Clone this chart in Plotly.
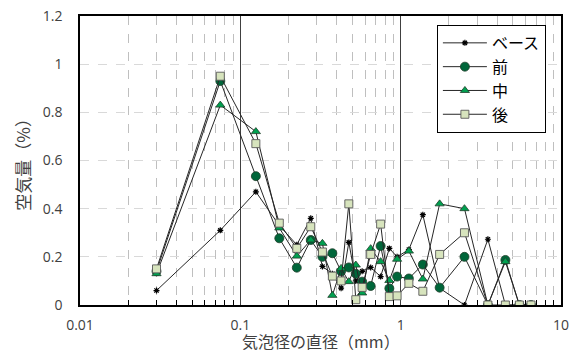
import plotly.graph_objects as go

diam = [0.03, 0.075, 0.125, 0.175, 0.225, 0.275, 0.325, 0.375, 0.425, 0.475, 0.525, 0.575,
        0.65, 0.75, 0.85, 0.95, 1.125, 1.375, 1.75, 2.5, 3.5, 4.5, 5.5, 6.5]

base = [0.06, 0.31, 0.47, 0.33, 0.25, 0.36, 0.16, 0.13, 0.07, 0.26, 0.10, 0.14,
        0.156, 0.118, 0.235, 0.20, 0.23, 0.375, 0.07, 0.0, 0.273, 0.0, 0.0, 0.0]
mae = [0.14, 0.93, 0.535, 0.277, 0.155, 0.27, 0.20, 0.215, 0.14, 0.156, 0.13, 0.097,
       0.079, 0.245, 0.069, 0.118, 0.11, 0.168, 0.072, 0.20, 0.0, 0.187, 0.0, 0.0]
naka = [0.13, 0.83, 0.72, 0.32, 0.203, 0.27, 0.256, 0.04, 0.152, 0.097, 0.166, 0.05,
        0.234, 0.18, 0.102, 0.19, 0.224, 0.108, 0.42, 0.40, 0.0, 0.18, 0.0, 0.0]
ato = [0.15, 0.95, 0.67, 0.34, 0.235, 0.325, 0.22, 0.12, 0.10, 0.42, 0.022, 0.073,
       0.21, 0.336, 0.035, 0.038, 0.09, 0.057, 0.21, 0.30, 0.0, 0.0, 0.0, 0.0]

names = ["ベース", "前", "中", "後"]
x_title = "気泡径の直径（mm）"
y_title = "空気量（%）"
x_ticks = [0.01, 0.1, 1, 10]
x_tick_text = ["0.01", "0.1", "1", "10"]
x_minor = [m * d for d in (0.01, 0.1, 1) for m in range(2, 10)]
y_ticks = [0, 0.2, 0.4, 0.6, 0.8, 1.0, 1.2]
y_tick_text = ["0", "0.2", "0.4", "0.6", "0.8", "1", "1.2"]

FONT = "Open Sans, Noto Sans CJK JP, sans-serif"
JP = "Noto Sans CJK JP, sans-serif"
line = dict(color="#262626", width=1)

fig = go.Figure()
fig.add_trace(go.Scatter(x=diam, y=base, name=names[0], mode="lines+markers", line=line,
                         marker=dict(symbol="asterisk-open", size=5, color="#000000",
                                     line=dict(color="#000000", width=1.2))))
fig.add_trace(go.Scatter(x=diam, y=mae, name=names[1], mode="lines+markers", line=line,
                         marker=dict(symbol="circle", size=9, color="#00663a",
                                     line=dict(color="#1f3d2a", width=0.8))))
fig.add_trace(go.Scatter(x=diam, y=naka, name=names[2], mode="lines+markers", line=line,
                         marker=dict(symbol="triangle-up", size=8, color="#00a050",
                                     line=dict(color="#1f3d2a", width=0.8))))
fig.add_trace(go.Scatter(x=diam, y=ato, name=names[3], mode="lines+markers", line=line,
                         marker=dict(symbol="square", size=8, color="#d7e4bd",
                                     line=dict(color="#595959", width=0.9))))

fig.update_layout(
    width=577, height=356,
    margin=dict(l=80, r=16, t=16, b=51),
    paper_bgcolor="white", plot_bgcolor="white",
    font=dict(family=FONT, size=14, color="#404040"),
    showlegend=True,
    legend=dict(x=0.742, y=0.969, xanchor="left", yanchor="top",
                bgcolor="white", bordercolor="#000000", borderwidth=1,
                font=dict(family=JP, size=16, color="#000000"),
                itemwidth=44, tracegroupgap=0),
    annotations=[
        dict(text=x_title, xref="paper", yref="paper", x=0.5, y=-0.171,
             xanchor="center", yanchor="bottom", showarrow=False, borderpad=0,
             font=dict(family=JP, size=16, color="#404040")),
        dict(text=y_title, xref="paper", yref="paper", x=-0.12, y=0.5, textangle=-90,
             xanchor="center", yanchor="middle", showarrow=False,
             font=dict(family=JP, size=17, color="#404040")),
    ],
)
fig.update_xaxes(
    type="log", range=[-2, 1], automargin=False,
    tickvals=x_ticks, ticktext=x_tick_text, ticks="", ticklabelstandoff=6,
    showgrid=True, gridcolor="#404040", gridwidth=1,
    showline=True, linecolor="#000000", linewidth=1.5, mirror=True,
    minor=dict(tickvals=x_minor, ticks="inside", ticklen=5, tickcolor="#000000", showgrid=True,
               gridcolor="#bfbfbf", griddash="dash", gridwidth=1),
    tickfont=dict(family=FONT, size=14, color="#404040"),
    zeroline=False,
)
fig.update_yaxes(
    range=[0, 1.2], automargin=False,
    tickvals=y_ticks, ticktext=y_tick_text, ticks="", ticklabelstandoff=13,
    showgrid=True, gridcolor="#d9d9d9", griddash="dash", gridwidth=1,
    showline=True, linecolor="#000000", linewidth=1.5, mirror=True,
    tickfont=dict(family=FONT, size=14, color="#404040"),
    zeroline=False,
)

fig.write_html("out.html")
